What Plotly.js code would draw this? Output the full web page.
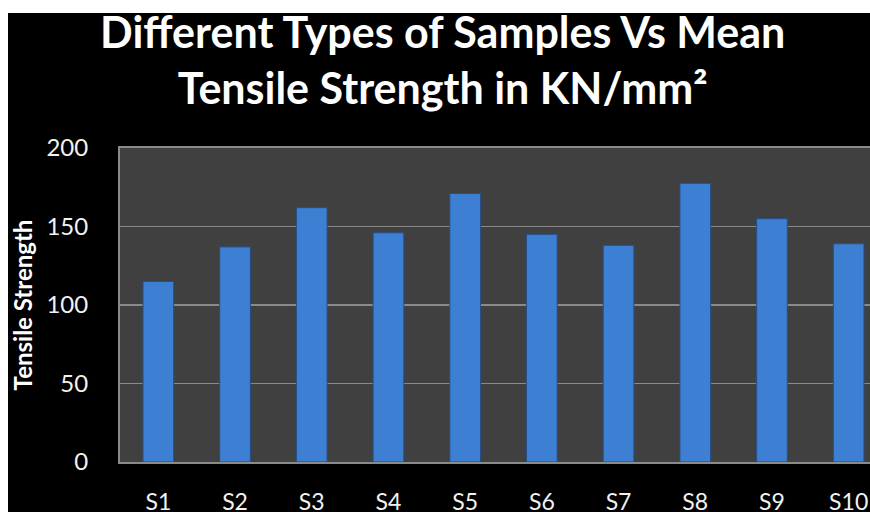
<!DOCTYPE html>
<html>
<head>
<meta charset="utf-8">
<script src="https://cdn.plot.ly/plotly-3.0.1.min.js"></script>
<style>
  html, body { margin: 0; padding: 0; background: #ffffff; overflow: hidden; width: 870px; height: 512px; }
  #chart { position: absolute; left: 8px; top: 13px; width: 900px; height: 499px; }
</style>
</head>
<body>
<div id="chart"></div>
<script>
const categories = ["S1", "S2", "S3", "S4", "S5", "S6", "S7", "S8", "S9", "S10"];
const tensileStrength = [115, 137, 162, 146, 171, 145, 138, 177.5, 155, 139];
const yTickValues = [0, 50, 100, 150, 200];

const trace = {
  type: "bar",
  x: categories,
  y: tensileStrength,
  marker: { color: "#3d7fd3", line: { color: "#264f86", width: 1 } },
  hoverinfo: "x+y"
};

const layout = {
  width: 900,
  height: 499,
  margin: { l: 112, r: 21, t: 135, b: 50 },
  paper_bgcolor: "#000000",
  plot_bgcolor: "#404040",
  bargap: 0.6,
  showlegend: false,
  font: { family: "Lato, 'Open Sans', sans-serif", color: "#ffffff" },
  title: {
    text: "<b>Different Types of Samples Vs Mean<br>Tensile Strength in KN/mm²</b>",
    font: { family: "Lato, sans-serif", size: 43, color: "#ffffff" },
    x: 0.483, xref: "container", xanchor: "center",
    y: 0.93, yref: "container", yanchor: "middle"
  },
  xaxis: {
    type: "category",
    range: [-0.5, 9.5],
    showgrid: false,
    zeroline: false,
    showline: true,
    linecolor: "#8a8a8a",
    linewidth: 2,
    mirror: true,
    ticks: "",
    ticklabelstandoff: 18,
    tickfont: { family: "Lato, sans-serif", size: 23, color: "#f2f2f2" }
  },
  yaxis: {
    range: [0, 200],
    tickvals: yTickValues,
    showgrid: true,
    gridcolor: "#8a8a8a",
    gridwidth: 1.5,
    zeroline: false,
    showline: true,
    linecolor: "#8a8a8a",
    linewidth: 2,
    mirror: true,
    ticks: "",
    ticklabelstandoff: 25,
    tickfont: { family: "Lato, sans-serif", size: 24, color: "#f2f2f2" },
    title: {
      text: "<b>Tensile Strength</b>",
      font: { family: "Lato, sans-serif", size: 24, color: "#ffffff" },
      standoff: 16
    }
  }
};

Plotly.newPlot("chart", [trace], layout, { displayModeBar: false, staticPlot: true });
</script>
</body>
</html>
